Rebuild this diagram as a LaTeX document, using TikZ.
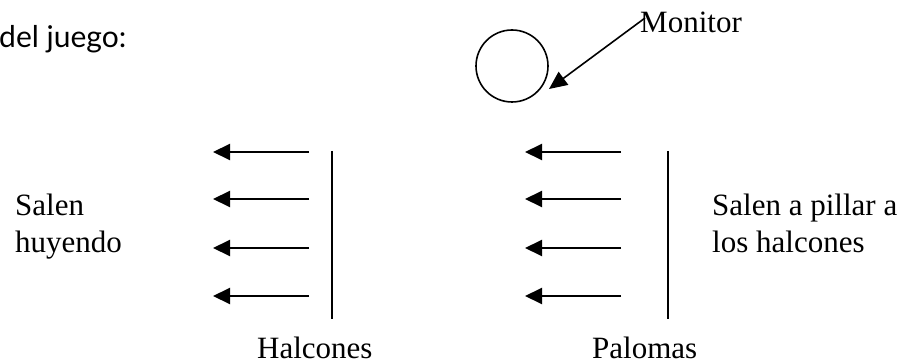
\documentclass[tikz,border=0pt]{standalone}
\usepackage{fontspec}
\setmainfont{Liberation Serif}
\newfontfamily\gillfont{Lato}
\usetikzlibrary{arrows.meta}
\begin{document}
\begin{tikzpicture}[x=1pt,y=-1pt,
  lbl/.style={inner sep=0pt,anchor=base west,font=\fontsize{31}{37}\selectfont},
  flee/.style={line width=2pt,-{Triangle[length=17pt,width=16pt]}},
  wall/.style={line width=2pt},
  ptr/.style={line width=1.6pt,-{Triangle[length=18pt,width=16pt]}}]
\useasboundingbox (0,0) rectangle (909,363);
\node[inner sep=0pt,anchor=base west,font=\gillfont\fontsize{30}{36}\selectfont] (title) at (-1,48) {del juego:};
\node[draw,circle,line width=1.6pt,minimum size=72pt,inner sep=0pt] (mon) at (512,66) {};
\node[lbl] (montxt) at (640,33) {Monitor};
\coordinate (ms) at (645,18);
\coordinate (me) at (549,89);
\draw[ptr] (ms) -- (me);
\foreach \i/\y in {1/152,2/199,3/248,4/296}{
  \coordinate (la\i) at (309,\y);
  \coordinate (lb\i) at (213,\y);
  \draw[flee] (la\i) -- (lb\i);
  \coordinate (ra\i) at (621,\y);
  \coordinate (rb\i) at (525,\y);
  \draw[flee] (ra\i) -- (rb\i);
}
\coordinate (lw1) at (332,151);
\coordinate (lw2) at (332,319);
\draw[wall] (lw1) -- (lw2);
\coordinate (rw1) at (668,151);
\coordinate (rw2) at (668,319);
\draw[wall] (rw1) -- (rw2);
\node[lbl] (sal1) at (15,215) {Salen};
\node[lbl] (sal2) at (15,252) {huyendo};
\node[lbl] (pil1) at (712,215) {Salen a pillar a};
\node[lbl] (pil2) at (712,252) {los halcones};
\node[lbl,text depth=0pt] (hal) at (257,358) {Halcones};
\node[lbl,text depth=0pt] (pal) at (592,358) {Palomas};
\end{tikzpicture}
\end{document}
